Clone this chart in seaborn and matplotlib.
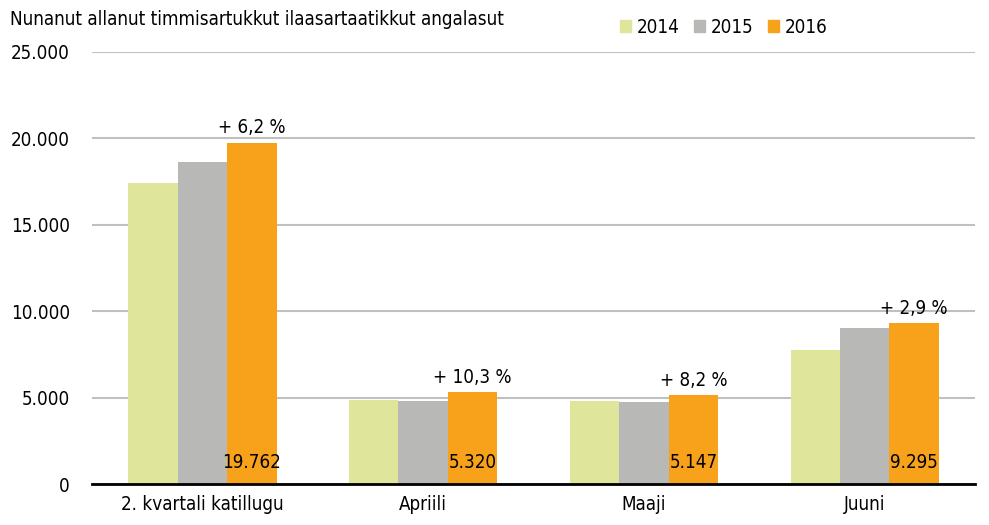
import numpy as np
import pandas as pd
import matplotlib
matplotlib.use('Agg')
import matplotlib.pyplot as plt
import seaborn as sns
from matplotlib.patches import Patch

# data
categories = ['2. kvartali katillugu', 'Apriili', 'Maaji', 'Juuni']
years = ['2014', '2015', '2016']
v2014 = [17400, 4860, 4800, 7750]
v2015 = [18610, 4823, 4757, 9033]
v2016 = [19762, 5320, 5147, 9295]
growth = ['+ 6,2 %', '+ 10,3 %', '+ 8,2 %', '+ 2,9 %']
yticks = [0, 5000, 10000, 15000, 20000, 25000]
ytick_labels = ['0', '5.000', '10.000', '15.000', '20.000', '25.000']
title = 'Nunanut allanut timmisartukkut ilaasartaatikkut angalasut'

colors = ['#dfe59a', '#b8b9b6', '#f8a21c']

df = pd.DataFrame({
    'kategori': categories * 3,
    'ukioq': [y for y in years for _ in categories],
    'value': v2014 + v2015 + v2016,
})

sns.set_theme(style='white')
plt.rcParams['font.family'] = ['DejaVu Sans']
plt.rcParams['font.stretch'] = 'condensed'
plt.rcParams['text.color'] = 'black'
plt.rcParams['xtick.color'] = 'black'
plt.rcParams['ytick.color'] = 'black'
fs = 13.5

fig = plt.figure(figsize=(9.89, 5.25), dpi=100)
ax = fig.add_axes([0.093, 0.078, 0.893, 0.823])

sns.barplot(data=df, x='kategori', y='value', hue='ukioq', palette=colors,
            width=0.672, gap=0, saturation=1, legend=False, linewidth=0,
            ax=ax, zorder=3)

ax.set_ylim(0, 25000)
ax.set_yticks(yticks)
ax.set_yticklabels(ytick_labels, fontsize=fs)
ax.tick_params(axis='x', labelsize=fs, length=0, pad=8)
ax.tick_params(axis='y', length=0, pad=16)
ax.set_xlabel('')
ax.set_ylabel('')
ax.yaxis.grid(True, color='#c0c0c0', linewidth=1.5, zorder=0)
for s in ['top', 'right', 'left']:
    ax.spines[s].set_visible(False)
ax.spines['bottom'].set_color('black')
ax.spines['bottom'].set_linewidth(2)
ax.spines['bottom'].set_zorder(5)

# labels on the 2016 bars
bw = 0.672 / 3
for i, (v, g) in enumerate(zip(v2016, growth)):
    xc = i + bw
    ax.text(xc, 700, f'{v:,}'.replace(',', '.'), ha='center', va='bottom',
            fontsize=fs, color='black', zorder=6)
    ax.text(xc, v + 300, g, ha='center', va='bottom', fontsize=fs, zorder=6)

fig.text(0.01, 0.962, title, fontsize=fs, ha='left', va='center')

handles = [Patch(color=c) for c in colors]
fig.legend(handles, years, loc='center left', bbox_to_anchor=(0.61, 0.948),
           ncol=3, frameon=False, fontsize=fs, handlelength=0.6, handleheight=0.6,
           handletextpad=0.3, columnspacing=0.75)

fig.savefig('out.png', dpi=100)
